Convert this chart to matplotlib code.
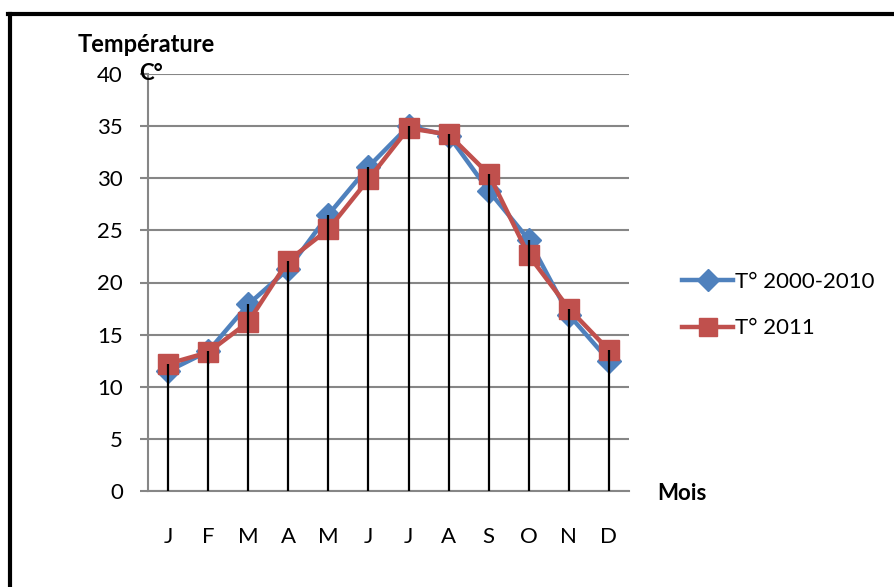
import numpy as np
import matplotlib
matplotlib.use("Agg")
import matplotlib.pyplot as plt
from matplotlib.lines import Line2D

# data -----------------------------
mois = ["J", "F", "M", "A", "M", "J", "J", "A", "S", "O", "N", "D"]
t_2000_2010 = [11.5, 13.4, 17.9, 21.3, 26.5, 31.1, 35.0, 34.1, 28.8, 24.1, 16.9, 12.5]
t_2011 = [12.2, 13.3, 16.2, 22.1, 25.1, 29.9, 34.8, 34.2, 30.4, 22.6, 17.5, 13.5]
y_ticks = [0, 5, 10, 15, 20, 25, 30, 35, 40]
# ----------------------------------

plt.rcParams['font.family'] = ['Lato', 'DejaVu Sans']
fs = 16

blue = "#4F81BD"
red = "#C0504D"
grid_col = "#868686"

fig = plt.figure(figsize=(8.94, 5.87), dpi=100)
ax = fig.add_axes([148 / 894, 96 / 587, 481 / 894, 417 / 587])

x = np.arange(len(mois)) + 0.5

ax.plot(x, t_2000_2010, color=blue, lw=3.2, marker="D", ms=12,
        markeredgecolor=blue, label="T° 2000-2010", zorder=3)
ax.plot(x, t_2011, color=red, lw=3.2, marker="s", ms=14,
        markeredgecolor=red, label="T° 2011", zorder=4)
# drop lines
ax.vlines(x, 0, np.maximum(t_2000_2010, t_2011), color="black", lw=1.6, zorder=5)

ax.set_xlim(0, 12)
ax.set_ylim(0, 40)
ax.set_yticks(y_ticks)
ax.set_xticks(x)
ax.set_xticklabels(mois)
ax.yaxis.grid(True, color=grid_col, lw=1.5)
ax.set_axisbelow(True)
for s in ["top", "right"]:
    ax.spines[s].set_visible(False)
ax.spines["left"].set_color(grid_col)
ax.spines["bottom"].set_color(grid_col)
ax.spines["left"].set_linewidth(1.5)
ax.spines["bottom"].set_linewidth(1.5)
ax.tick_params(axis="y", length=6, width=1.5, color=grid_col, labelsize=fs, pad=12)
ax.tick_params(axis="x", length=0, labelsize=fs, pad=26)

fig.text(78 / 894, 1 - 45 / 587, "Température", fontsize=17, fontweight="bold", va="center")
fig.text(139 / 894, 1 - 74 / 587, "C°", fontsize=fs, fontweight="bold", va="center")
fig.text(657 / 894, 1 - 494 / 587, "Mois", fontsize=fs, fontweight="bold", va="center")

handles = [Line2D([], [], color=blue, lw=3.2, marker="D", ms=11),
           Line2D([], [], color=red, lw=3.2, marker="s", ms=13)]
fig.legend(handles, ["T° 2000-2010", "T° 2011"], loc="center left",
           bbox_to_anchor=(662 / 894, 1 - 305 / 587), frameon=False,
           fontsize=fs, handlelength=2.3, handletextpad=0.1, labelspacing=1.2)

# chart border (left and top edges visible)
fig.add_artist(Line2D([9.5 / 894, 9.5 / 894], [0, 1 - 14 / 587], color="black", lw=3))
fig.add_artist(Line2D([8 / 894, 1], [1 - 14 / 587, 1 - 14 / 587], color="black", lw=3))

fig.savefig("out.png", dpi=100)
